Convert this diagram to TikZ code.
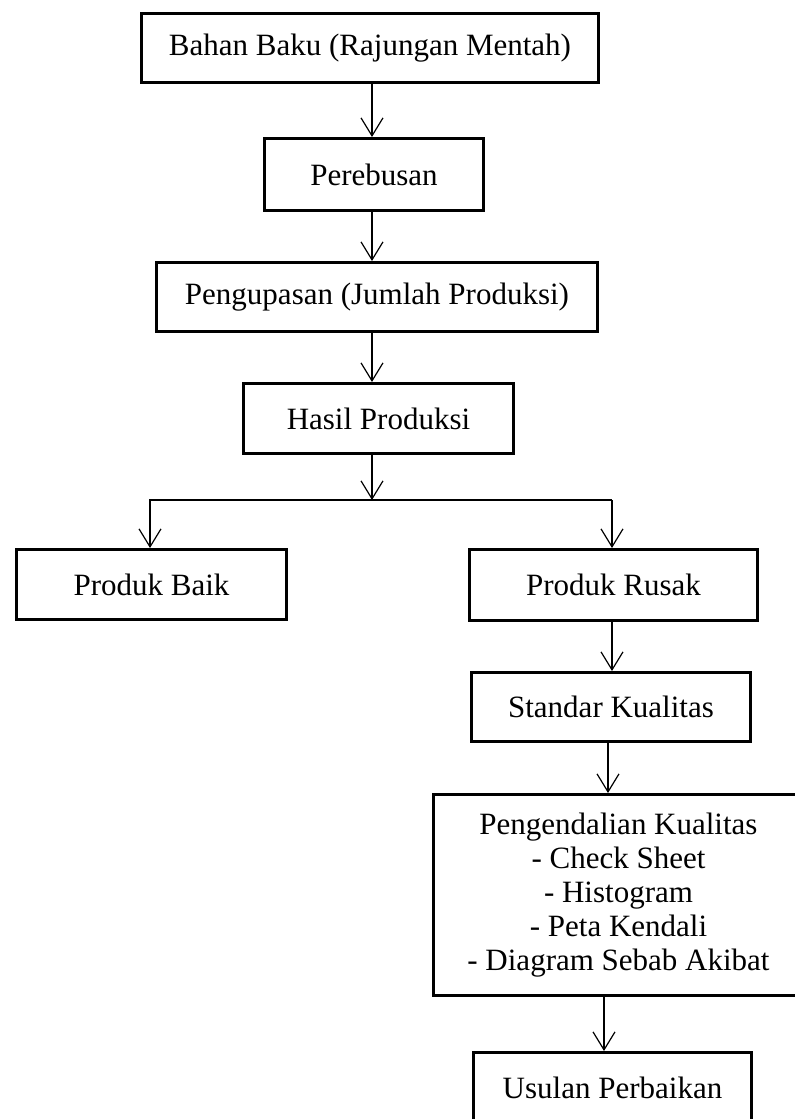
\documentclass[tikz,border=0pt]{standalone}
\usepackage{fontspec}
\setmainfont{Liberation Serif}
\usetikzlibrary{arrows.meta}
\begin{document}
\begin{tikzpicture}[x=1pt,y=-1pt]
  \tikzstyle{box}=[rectangle,draw,line width=3pt,align=center,inner sep=0pt,font=\fontsize{31}{34}\selectfont]
  \tikzstyle{arr}=[line width=1.2pt,-{Straight Barb[length=18pt,width=22pt,line width=1.2pt]}]
  \useasboundingbox (0,0) rectangle (795,1119);
  \clip (0,0) rectangle (795,1119);
  \node[box,minimum width=457pt,minimum height=69pt] (bahan) at (370,48) {Bahan Baku (Rajungan Mentah)};
  \node[box,minimum width=219pt,minimum height=72pt] (rebus) at (374,174.5) {Perebusan};
  \node[box,minimum width=441pt,minimum height=69pt] (kupas) at (377,297) {Pengupasan (Jumlah Produksi)};
  \node[box,minimum width=270pt,minimum height=70pt] (hasil) at (378.5,418.5) {Hasil Produksi};
  \node[box,minimum width=270pt,minimum height=70pt] (baik) at (151.5,584.5) {Produk Baik};
  \node[box,minimum width=288pt,minimum height=71pt] (rusak) at (613.5,585) {Produk Rusak};
  \node[box,minimum width=279pt,minimum height=69pt] (standar) at (611,707) {Standar Kualitas};
  \node[box,minimum width=370pt,minimum height=201pt] (kendali) at (618.5,895)
    {Pengendalian Kualitas\\- Check Sheet\\- Histogram\\- Peta Kendali\\- Diagram Sebab Akibat};
  \node[box,minimum width=278pt,minimum height=71pt] (usulan) at (612.5,1088) {Usulan Perbaikan};
  \coordinate (trunk) at (372,0);
  \coordinate (cabang) at (372,500);
  \coordinate (kiri) at (150,500);
  \coordinate (kanan) at (612,500);
  \coordinate (kanan2) at (608,0);
  \coordinate (kanan3) at (604,0);
  \draw[arr] (trunk |- bahan.south) -- (trunk |- rebus.north);
  \draw[arr] (trunk |- rebus.south) -- (trunk |- kupas.north);
  \draw[arr] (trunk |- kupas.south) -- (trunk |- hasil.north);
  \draw[arr] (trunk |- hasil.south) -- (cabang);
  \draw[arr] (kanan) -- (kiri) -- (kiri |- baik.north);
  \draw[arr] (kanan) -- (kanan |- rusak.north);
  \draw[arr] (kanan |- rusak.south) -- (kanan |- standar.north);
  \draw[arr] (kanan2 |- standar.south) -- (kanan2 |- kendali.north);
  \draw[arr] (kanan3 |- kendali.south) -- (kanan3 |- usulan.north);
\end{tikzpicture}
\end{document}
